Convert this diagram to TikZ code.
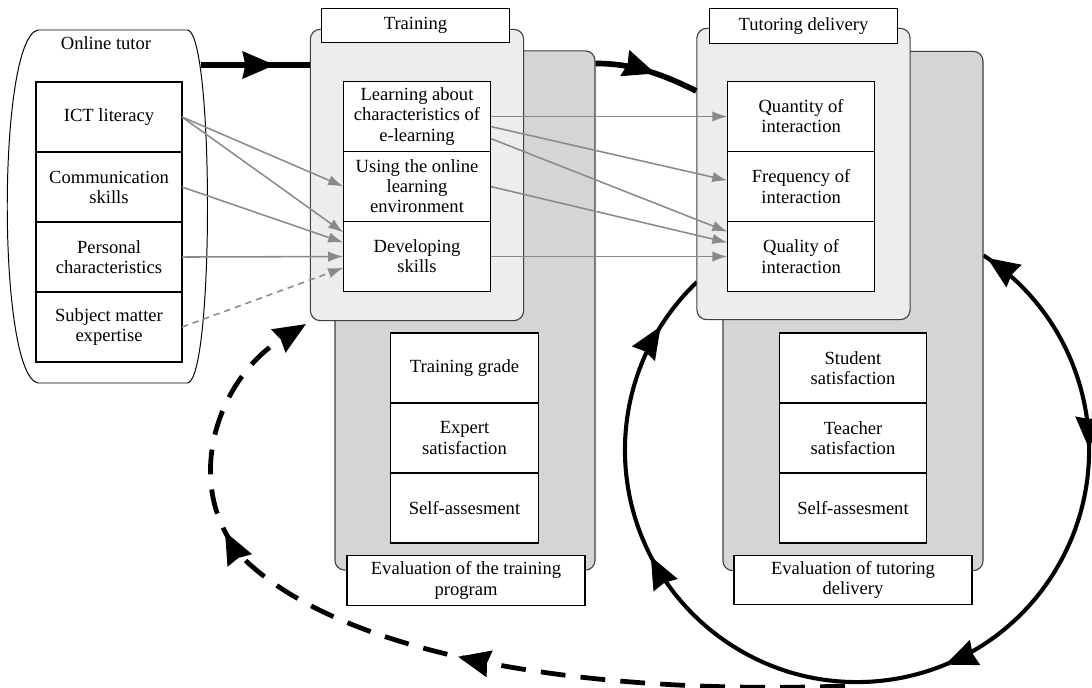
\documentclass[tikz,border=0pt]{standalone}
\usepackage{fontspec}
\setmainfont{Liberation Serif}
\usetikzlibrary{positioning, arrows.meta, decorations.markings}

\definecolor{frontgray}{HTML}{EDEEEC}
\definecolor{backgray}{HTML}{D5D5D5}
\definecolor{linkgray}{HTML}{8A8A8A}

\tikzset{
  bighead/.tip={Stealth[length=0.8cm, width=0.66cm, inset=0.06cm]},
  midhead/.style={postaction={decorate},
    decoration={markings, mark=at position #1 with {\arrow{bighead}}}}
}

\begin{document}
\begin{tikzpicture}[
  x=0.025cm, y=-0.025cm,
  >=Stealth,
  font=\fontsize{13.2}{14.3}\selectfont
]
\tikzstyle{item}=[draw=black, fill=white, line width=0.8pt, outer sep=0pt, minimum width=3.68cm, minimum height=1.75cm, align=center, inner sep=1pt]
\tikzstyle{caption}=[item, minimum width=4.7cm, minimum height=0.87cm]
\tikzstyle{evalcaption}=[item, minimum width=5.95cm, minimum height=1.23cm]
\tikzstyle{front}=[draw=black!75, fill=frontgray, line width=0.8pt, rounded corners=7pt, minimum width=5.33cm, minimum height=7.28cm]
\tikzstyle{back}=[draw=black!75, fill=backgray, line width=0.8pt, rounded corners=7pt, minimum width=6.5cm, minimum height=12.98cm]
\tikzstyle{link}=[->, draw=linkgray, line width=1.1pt, >={Latex[length=0.38cm, width=0.26cm]}]
\tikzstyle{flow}=[draw=black, line width=4.4pt]

\useasboundingbox (0,0) rectangle (1092,688);

% ================= FEEDBACK LOOPS (behind the panels) =================
\coordinate (loop) at (857,450);
\draw[flow, line width=2.9pt, postaction={decorate},
  decoration={markings,
    mark=at position 0.004 with {\arrowreversed{bighead}},
    mark=at position 0.20 with {\arrow{bighead}},
    mark=at position 0.44 with {\arrow{bighead}},
    mark=at position 0.74 with {\arrow{bighead}},
    mark=at position 0.95 with {\arrow{bighead}}}]
  (loop) ++(57:5.8cm) arc[start angle=57, end angle=-226.4, radius=5.8cm];

\coordinate (dstart) at (845,686);
\coordinate (dend) at (306,324);
\draw[flow, line width=3.4pt, dash pattern=on 0.62cm off 0.38cm, -bighead, postaction={decorate},
  decoration={markings,
    mark=at position 0.43 with {\arrow{bighead}},
    mark=at position 0.73 with {\arrow{bighead}}}]
  (dstart) .. controls (600,695) and (350,660) .. (245,560)
           .. controls (180,490) and (215,380) .. (dend);

% ================= ONLINE TUTOR =================
\draw[line width=0.7pt] (38,30) -- (188,30) .. controls (214,38) and (214,375) .. (188,383)
  -- (38,383) .. controls (-3,375) and (-3,38) .. cycle;
\node (OT) at (106,43) {Online tutor};
\node[item, minimum width=3.65cm] (O1) at (109,117) {ICT literacy};
\node[item, minimum width=3.65cm] (O2) [below=0pt of O1] {Communication\\skills};
\node[item, minimum width=3.65cm] (O3) [below=0pt of O2] {Personal\\characteristics};
\node[item, minimum width=3.65cm] (O4) [below=0pt of O3] {Subject matter\\expertise};

% ================= PANELS =================
\node[back] (TrB) at (465,310.5) {};
\node[back] (TuB) at (853,311) {};
\node[front] (TrF) at (417,175) {};
\node[front] (TuF) at (803.5,174) {};
\node[caption] (TrT) at (415.5,25.5) {Training};
\node[caption] (TuT) at (803.5,26) {Tutoring delivery};

% ================= TRAINING =================
\node[item] (T1) at (417,116.5) {Learning about\\characteristics of\\e-learning};
\node[item] (T2) [below=0pt of T1] {Using the online\\learning\\environment};
\node[item] (T3) [below=0pt of T2] {Developing\\skills};

\node[item] (E1) at (464.5,368) {Training grade};
\node[item] (E2) [below=0pt of E1] {Expert\\satisfaction};
\node[item] (E3) [below=0pt of E2] {Self-assesment};
\node[evalcaption] (EvT) at (466,580.5) {Evaluation of the training\\program};

% ================= TUTORING DELIVERY =================
\node[item] (Q1) [right=5.92cm of T1] {Quantity of\\interaction};
\node[item] (Q2) [below=0pt of Q1] {Frequency of\\interaction};
\node[item] (Q3) [below=0pt of Q2] {Quality of\\interaction};

\node[item] (S1) [right=6.03cm of E1] {Student\\satisfaction};
\node[item] (S2) [below=0pt of S1] {Teacher\\satisfaction};
\node[item] (S3) [below=0pt of S2] {Self-assesment};
\node[evalcaption] (EvD) at (853,580) {Evaluation of tutoring\\delivery};

% ===== Main flow =====
\coordinate (tutorout) at (201,65);
\draw[flow, midhead=0.68] (tutorout) -- (tutorout -| TrF.west);
\draw[flow, line width=4pt, midhead=0.58] ([yshift=-0.33cm]TrB.north east)
  .. controls +(0.9cm,0) and +(-0.9cm,0.45cm) .. ([yshift=-1.58cm]TuF.north west);

% ===== Competences into training =====
\foreach \src/\dst in {O1/T2, O3/T3}
  \draw[link] (\src.east) -- (\dst.west);
\draw[link] (O1.east) -- ([yshift=0.6cm]T3.west);
\draw[link] (O2.east) -- ([yshift=0.35cm]T3.west);
\draw[link, dash pattern=on 4.5pt off 3.5pt] (O4.east) -- ([yshift=-0.28cm]T3.west);

% ===== Training into tutoring =====
\foreach \src/\dst in {T1/Q1, T3/Q3}
  \draw[link] (\src.east) -- (\dst.west);
\draw[link] ([yshift=-0.25cm]T1.east) -- ([yshift=0.15cm]Q2.west);
\draw[link] ([yshift=-0.55cm]T1.east) -- ([yshift=0.62cm]Q3.west);
\draw[link] (T2.east) -- ([yshift=0.35cm]Q3.west);
\end{tikzpicture}
\end{document}
